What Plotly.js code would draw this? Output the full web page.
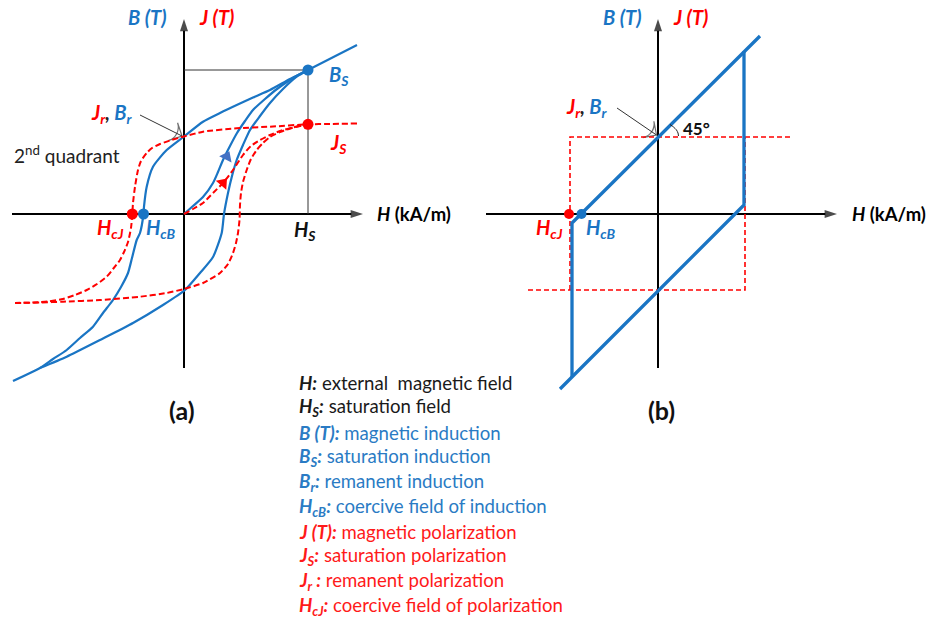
<!DOCTYPE html>
<html>
<head>
<meta charset="utf-8">
<script src="https://cdn.plot.ly/plotly-3.0.1.min.js"></script>
<style>html,body{margin:0;padding:0;background:#fff;}#chart{width:930px;height:621px;}</style>
</head>
<body>
<div id="chart"></div>
<script>
// ---------- Panel (a): real hysteresis loops (H and B/J in arbitrary units) ----------
const bDescH = [17.3, 12.4, 10.6, 8.6, 6.9, 5.27, 3.6, 1.9, 0, -1.73, -3.1, -3.73, -4.0, -4.05, -4.4, -4.73, -5.2, -5.6, -6.3, -7.1, -8.1, -9.1, -10.4, -11.73, -13.1, -14.4, -17.1];
const bDescB = [16.9, 14.4, 13.5, 12.4, 11.65, 10.9, 10.1, 9.23, 7.75, 6.4, 4.73, 2.73, 0.73, 0, -1.9, -2.6, -4.4, -5.9, -7.3, -8.6, -9.9, -11.27, -12.4, -13.6, -14.5, -15.4, -16.7];
const bAscH = [-14.4, -11.73, -8.4, -5.1, -2.1, 0.1, 1.6, 2.9, 3.77, 4.0, 4.4, 4.8, 5.27, 5.9, 6.6, 7.6, 8.6, 9.9, 11.27, 12.4];
const bAscB = [-15.4, -14.27, -12.6, -10.9, -9.1, -7.6, -5.9, -4.3, -1.9, 0, 2.1, 3.8, 5.4, 6.9, 8.4, 9.8, 11.1, 12.5, 13.73, 14.4];
const bInitH = [0, 0.9, 1.9, 2.9, 3.4, 3.9, 4.6, 5.3, 6.1, 6.9, 8.1, 9.3, 10.6, 11.6, 12.4];
const bInitB = [0, 0.8, 1.7, 3.1, 4.2, 5.4, 6.8, 8.1, 9.3, 10.4, 11.5, 12.5, 13.4, 14.0, 14.4];

const jDescH = [17.3, 14.6, 12.4, 8.6, 5.27, 1.9, 0, -1.4, -2.4, -3.2, -3.73, -4.3, -4.6, -4.9, -5.1, -5.17, -5.3, -5.6, -6.0, -6.4, -7.1, -7.73, -8.7, -9.73, -10.9, -12.1, -13.6, -15.1, -16.9];
const jDescJ = [9.05, 9.0, 8.97, 8.73, 8.57, 8.23, 7.75, 7.35, 7.0, 6.6, 6.1, 5.3, 4.4, 2.73, 1.1, 0, -1.4, -2.8, -3.8, -4.6, -5.5, -6.27, -7.0, -7.6, -8.1, -8.5, -8.75, -8.85, -8.9];
const jAscH = [-16.9, -14.4, -12.1, -8.4, -4.4, -1.73, 0, 1.9, 3.6, 4.4, 4.9, 5.2, 5.4, 5.55, 5.6, 5.7, 5.9, 6.27, 6.7, 7.27, 7.9, 8.6, 9.6, 10.6, 11.6, 12.4];
const jAscJ = [-8.9, -8.85, -8.77, -8.6, -8.27, -7.9, -7.5, -6.9, -5.9, -5.0, -3.9, -2.9, -1.9, -0.6, 0.9, 2.1, 3.2, 4.4, 5.5, 6.4, 7.1, 7.7, 8.2, 8.55, 8.8, 8.97];
const jInitH = [0, 0.9, 1.9, 2.9, 3.9, 4.9, 5.9, 6.7, 7.6, 8.6, 9.6, 10.9, 11.9, 12.4];
const jInitJ = [0, 0.5, 1.1, 2.1, 3.1, 4.4, 5.9, 6.8, 7.4, 7.9, 8.3, 8.65, 8.9, 8.97];

const satH = 12.4, satB = 14.4, satJ = 8.97;   // H_S, B_S, J_S
const coerJ_a = -5.17, coerB_a = -4.05;        // H_cJ, H_cB
const arrowB = {h: 4.27, b: 5.73, angle: 27};   // direction marks on initial curves
const arrowJ = {h: 3.9, b: 3.1, angle: 41};

// ---------- Panel (b): ideal loops ----------
const idealBUpperH = [10.2, -8.6, -8.6];
const idealBUpperB = [17.8, -0.9, -16.3];
const idealBLowerH = [-9.8, 8.6, 8.6];
const idealBLowerB = [-17.5, 0.9, 16.3];
const idealJUpperH = [13.2, -8.8, -8.8];
const idealJUpperJ = [7.7, 7.7, -7.6];
const idealJLowerH = [-13.0, 8.7, 8.7];
const idealJLowerJ = [-7.6, -7.6, 7.7];
const coerJ_b = -8.9, coerB_b = -7.65;
const arcH = [1.2, 1.55, 1.85, 2.0, 2.05];
const arcB = [8.95, 8.7, 8.4, 8.1, 7.8];

// axis extents (same for both panels)
const axisH = [-17.2, 17.9];
const axisB = [-15.4, 19.5];
// remanence pointer (tail -> head)
const pointerA = {h: [-4.4, -0.2], b: [9.9, 7.8]};
const pointerB = {h: [-4.1, -0.15], b: [10.6, 7.9]};

const legendLines = [
  ['<b><i>H:</i></b> external  magnetic field', '#1a1a1a'],
  ['<b><i>H<sub>S</sub>:</i></b> saturation field', '#1a1a1a'],
  ['<b><i>B (T):</i></b> magnetic induction', '#2a7bc4'],
  ['<b><i>B<sub>S</sub>:</i></b> saturation induction', '#2a7bc4'],
  ['<b><i>B<sub>r</sub>:</i></b> remanent induction', '#2a7bc4'],
  ['<b><i>H<sub>cB</sub>:</i></b> coercive field of induction', '#2a7bc4'],
  ['<b><i>J (T):</i></b> magnetic polarization', '#ff1a1a'],
  ['<b><i>J<sub>S</sub>:</i></b> saturation polarization', '#ff1a1a'],
  ['<b><i>J<sub>r</sub> :</i></b> remanent polarization', '#ff1a1a'],
  ['<b><i>H<sub>cJ</sub>:</i></b> coercive field of polarization', '#ff1a1a']
];

// ---------- styles ----------
const BLUE = '#1a75c4', RED = '#ff0000', BLK = '#000000';
const FONT = 'Lato, "Open Sans", sans-serif';

function line(x, y, color, width, dash, xa) {
  return {x: x, y: y, xaxis: xa || 'x', yaxis: 'y', mode: 'lines', type: 'scatter',
    line: {color: color, width: width, dash: dash || 'solid', shape: 'spline', smoothing: 0.6},
    hoverinfo: 'skip', showlegend: false};
}
function straight(x, y, color, width, dash, xa) {
  const t = line(x, y, color, width, dash, xa); t.line.shape = 'linear'; return t;
}
function dots(x, y, color, size, xa) {
  return {x: x, y: y, xaxis: xa || 'x', yaxis: 'y', mode: 'markers', type: 'scatter',
    marker: {color: color, size: size}, hoverinfo: 'skip', showlegend: false};
}
function arrowLine(x, y, color, width, symbol, size, xa) {
  return {x: x, y: y, xaxis: xa || 'x', yaxis: 'y', mode: 'lines+markers', type: 'scatter',
    line: {color: color, width: width},
    marker: {symbol: symbol, size: [0, size], color: color, angleref: 'previous',
             line: {color: color, width: symbol.indexOf('open') >= 0 ? 1.2 : 0}},
    hoverinfo: 'skip', showlegend: false};
}

const DASH = '6px,3px';
const traces = [
  // axes
  arrowLine(axisH, [0, 0], BLK, 2, 'arrow', 13, 'x'),
  arrowLine([0, 0], axisB, BLK, 2, 'arrow', 13, 'x'),
  arrowLine(axisH, [0, 0], BLK, 2, 'arrow', 13, 'x2'),
  arrowLine([0, 0], axisB, BLK, 2, 'arrow', 13, 'x2'),
  arrowLine(pointerA.h, pointerA.b, '#333', 1, 'arrow-wide-open', 14, 'x'),
  arrowLine(pointerB.h, pointerB.b, '#333', 1, 'arrow-wide-open', 14, 'x2'),
  // panel (a)
  straight([0, satH, satH], [satB, satB, 0], '#333', 1),
  line(bDescH, bDescB, BLUE, 2.2),
  line(bAscH, bAscB, BLUE, 2.2),
  line(bInitH, bInitB, BLUE, 2.2),
  line(jDescH, jDescJ, RED, 2, DASH),
  line(jAscH, jAscJ, RED, 2, DASH),
  line(jInitH, jInitJ, RED, 2, DASH),
  dots([satH], [satB], BLUE, 11),
  dots([satH], [satJ], RED, 11),
  dots([coerJ_a], [0], RED, 11),
  dots([coerB_a], [0], BLUE, 11),
  {x: [arrowB.h], y: [arrowB.b], xaxis: 'x', yaxis: 'y', mode: 'markers', type: 'scatter',
   marker: {symbol: 'triangle-up', size: 12, color: '#4472c4', angle: arrowB.angle}, hoverinfo: 'skip', showlegend: false},
  {x: [arrowJ.h], y: [arrowJ.b], xaxis: 'x', yaxis: 'y', mode: 'markers', type: 'scatter',
   marker: {symbol: 'triangle-up', size: 12, color: RED, angle: arrowJ.angle}, hoverinfo: 'skip', showlegend: false},
  // panel (b)
  straight(idealJUpperH, idealJUpperJ, RED, 1.6, '5px,3px', 'x2'),
  straight(idealJLowerH, idealJLowerJ, RED, 1.6, '5px,3px', 'x2'),
  straight(idealBUpperH, idealBUpperB, BLUE, 3.3, 'solid', 'x2'),
  straight(idealBLowerH, idealBLowerB, BLUE, 3.3, 'solid', 'x2'),
  line(arcH, arcB, '#222', 1, 'solid', 'x2'),
  dots([coerJ_b], [0], RED, 10, 'x2'),
  dots([coerB_b], [0], BLUE, 10, 'x2')
];

function label(xa, x, y, text, color, size, xanchor) {
  return {xref: xa, yref: 'y', x: x, y: y, text: text, showarrow: false,
    font: {family: FONT, size: size || 20, color: color},
    xanchor: xanchor || 'center', yanchor: 'middle'};
}
const JrBr = '<b><i><span style="color:#ff0000">J<sub>r</sub></span><span style="color:#222">,</span> <span style="color:#1a75c4">B<sub>r</sub></span></i></b>';

const annotations = [
  // texts (a)
  label('x', -3.7, 19.7, '<b><i>B (T)</i></b>', BLUE, 20),
  label('x', 3.2, 19.7, '<b><i>J (T)</i></b>', RED, 20),
  label('x', 15.5, 13.9, '<b><i>B<sub>S</sub></i></b>', BLUE, 20),
  label('x', 15.4, 7.1, '<b><i>J<sub>S</sub></i></b>', RED, 20),
  label('x', -7.2, 10.1, JrBr, RED, 20),
  label('x', -11.7, 6.0, '2<sup>nd</sup> quadrant', '#222', 19),
  label('x', 19.1, 0, '<b><i>H</i> (kA/m)</b>', BLK, 18.5, 'left'),
  label('x', -7.4, -1.4, '<b><i>H<sub>cJ</sub></i></b>', RED, 20),
  label('x', -2.3, -1.4, '<b><i>H<sub>cB</sub></i></b>', BLUE, 20),
  label('x', 12.1, -1.6, '<b><i>H<sub>S</sub></i></b>', '#111', 20),
  label('x', -0.2, -19.6, '<b>(a)</b>', '#111', 25),
  // texts (b)
  label('x2', -3.6, 19.7, '<b><i>B (T)</i></b>', BLUE, 20),
  label('x2', 3.2, 19.7, '<b><i>J (T)</i></b>', RED, 20),
  label('x2', -7.1, 10.7, JrBr, RED, 20),
  label('x2', 3.8, 8.6, '<b>45°</b>', '#111', 17),
  label('x2', 19.2, 0, '<b><i>H</i> (kA/m)</b>', BLK, 18.5, 'left'),
  label('x2', -10.9, -1.4, '<b><i>H<sub>cJ</sub></i></b>', RED, 20),
  label('x2', -5.7, -1.4, '<b><i>H<sub>cB</sub></i></b>', BLUE, 20),
  label('x2', 0.3, -19.6, '<b>(b)</b>', '#111', 25)
];
legendLines.forEach(function (l, i) {
  annotations.push({xref: 'paper', yref: 'paper', x: 297 / 930, y: 1 - (383 + i * 24.8) / 621,
    text: l[0], showarrow: false, xanchor: 'left', yanchor: 'middle',
    font: {family: FONT, size: 18.6, color: l[1]}});
});

const hidden = {visible: false, showgrid: false, zeroline: false, fixedrange: true};
const layout = {
  width: 930, height: 621,
  margin: {l: 0, r: 0, t: 0, b: 0, pad: 0},
  paper_bgcolor: '#ffffff', plot_bgcolor: '#ffffff',
  showlegend: false,
  xaxis: Object.assign({range: [-18.4, 74.6], domain: [0, 1]}, hidden),
  xaxis2: Object.assign({range: [-65.8, 27.2], overlaying: 'x', domain: [0, 1]}, hidden),
  yaxis: Object.assign({range: [-40.7, 21.4], domain: [0, 1]}, hidden),
  annotations: annotations,
  font: {family: FONT}
};
Plotly.newPlot('chart', traces, layout, {displayModeBar: false, staticPlot: true});
</script>
</body>
</html>
